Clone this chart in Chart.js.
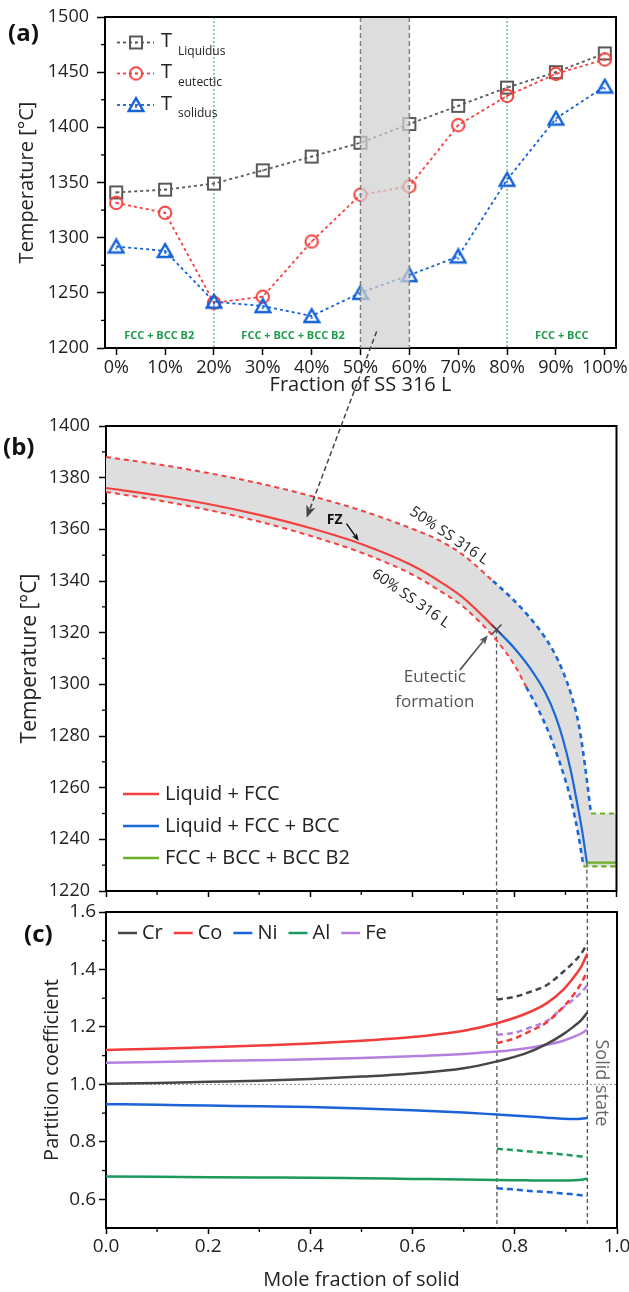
<!DOCTYPE html>
<html>
<head>
<meta charset="utf-8">
<title>Solidification path of the fusion zone</title>
<script src="https://cdn.jsdelivr.net/npm/chart.js@4.4.1/dist/chart.umd.min.js"></script>
<style>
  html, body { margin: 0; padding: 0; background: #fff; }
  body { position: relative; width: 629px; height: 1292px; overflow: hidden; }
  canvas { position: absolute; left: 0; }
  #chartA { top: 0; z-index: 1; }
  #chartB { top: 320px; z-index: 2; }
  #chartC { top: 891px; z-index: 3; }
</style>
</head>
<body>
<canvas id="chartA" width="629" height="400"></canvas>
<canvas id="chartB" width="629" height="580"></canvas>
<canvas id="chartC" width="629" height="401"></canvas>
<script>
(function () {

  var FONT = '"Open Sans", "Noto Sans", sans-serif';
  var INK = '#222';

  // ---- (a) characteristic temperatures vs. SS 316 L fraction
  var fracLabels = ['0%', '10%', '20%', '30%', '40%', '50%', '60%', '70%', '80%', '90%', '100%'];
  var tLiquidus = [1341, 1343.5, 1349, 1361, 1373.5, 1386, 1403, 1419.5, 1436, 1450, 1467];
  var tEutectic = [1331.5, 1322.5, 1241, 1246.5, 1296.5, 1339, 1346.5, 1402, 1428.5, 1448.5, 1461.5];
  var tSolidus = [1292, 1288, 1242, 1238, 1229, 1250, 1266, 1283, 1352.5, 1408, 1437];
  var aTicksY = [1200, 1250, 1300, 1350, 1400, 1450, 1500];
  var phaseNames = ['FCC + BCC B2', 'FCC + BCC + BCC B2', 'FCC + BCC'];
  var phaseSplits = [2, 8];     // index of 20 % and 80 %
  var fzRange = [5, 6];         // 50 % .. 60 % SS 316 L

  // ---- (b) solidification paths (mole fraction of solid vs T)
  var fsLiqFcc = [0, 0.1, 0.2, 0.3, 0.4, 0.5, 0.6, 0.65, 0.7, 0.765];
  var tLiqFcc = [1376, 1373.2, 1369.8, 1365.6, 1360.5, 1354.3, 1346, 1340.3, 1333.5, 1321.2];
  var fsLiqFccBcc = [0.765, 0.8, 0.83, 0.86, 0.88, 0.894, 0.91, 0.921, 0.933, 0.942];
  var tLiqFccBcc = [1321.2, 1314, 1306.5, 1297, 1288, 1279.5, 1267, 1256, 1243, 1231];
  var fsFccBccB2 = [0.942, 1];
  var tFccBccB2 = [1231, 1231];

  var fs50Fcc = [0, 0.1, 0.2, 0.3, 0.4, 0.5, 0.6, 0.65, 0.7, 0.758];
  var t50Fcc = [1388, 1385.2, 1381.8, 1377.8, 1373, 1367.3, 1360.2, 1356, 1350, 1340];
  var fs50Bcc = [0.758, 0.794, 0.823, 0.849, 0.876, 0.895, 0.912, 0.926, 0.938, 0.95];
  var t50Bcc = [1340, 1333.5, 1327.5, 1321.2, 1313, 1305, 1295.5, 1284.5, 1269, 1250];
  var fs50B2 = [0.95, 1];
  var t50B2 = [1250, 1250];

  var fs60Fcc = [0, 0.1, 0.2, 0.3, 0.4, 0.5, 0.6, 0.65, 0.7, 0.765, 0.8, 0.823];
  var t60Fcc = [1374.5, 1371.3, 1367.5, 1363, 1357.5, 1351, 1342.5, 1336.7, 1330, 1317, 1307.5, 1299];
  var fs60Bcc = [0.823, 0.85, 0.869, 0.89, 0.911, 0.925, 0.935];
  var t60Bcc = [1299, 1289, 1280.5, 1269, 1255, 1242, 1230];
  var fs60B2 = [0.935, 1];
  var t60B2 = [1229.5, 1229.5];

  var bTicksY = [1220, 1240, 1260, 1280, 1300, 1320, 1340, 1360, 1380, 1400];
  var fsTicks = [0, 0.2, 0.4, 0.6, 0.8, 1.0];

  // ---- (c) partition coefficients
  var fsK = [0, 0.1, 0.2, 0.3, 0.4, 0.5, 0.6, 0.7, 0.765, 0.82, 0.862, 0.895, 0.915, 0.93, 0.942];
  var kCr = [1.002, 1.005, 1.009, 1.013, 1.019, 1.027, 1.038, 1.056, 1.08, 1.107, 1.14, 1.175, 1.201, 1.224, 1.25];
  var kCo = [1.12, 1.124, 1.129, 1.135, 1.142, 1.152, 1.165, 1.187, 1.213, 1.245, 1.282, 1.33, 1.372, 1.41, 1.455];
  var kNi = [0.931, 0.929, 0.926, 0.924, 0.921, 0.916, 0.91, 0.902, 0.895, 0.889, 0.884, 0.88, 0.879, 0.88, 0.883];
  var kAl = [0.679, 0.678, 0.677, 0.676, 0.675, 0.673, 0.671, 0.669, 0.667, 0.666, 0.665, 0.665, 0.666, 0.668, 0.672];
  var kFe = [1.075, 1.078, 1.081, 1.084, 1.087, 1.092, 1.098, 1.106, 1.114, 1.125, 1.138, 1.152, 1.165, 1.177, 1.19];

  var fsKEut = [0.765, 0.8, 0.83, 0.862, 0.895, 0.915, 0.93, 0.942];
  var kCrEut = [1.295, 1.305, 1.322, 1.345, 1.392, 1.425, 1.455, 1.49];
  var kCoEut = [1.143, 1.16, 1.185, 1.215, 1.27, 1.312, 1.352, 1.395];
  var kNiEut = [0.638, 0.634, 0.629, 0.625, 0.62, 0.617, 0.614, 0.611];
  var kAlEut = [0.776, 0.771, 0.766, 0.761, 0.756, 0.752, 0.749, 0.747];
  var kFeEut = [1.172, 1.18, 1.198, 1.22, 1.268, 1.296, 1.32, 1.345];
  var cTicksY = [0.6, 0.8, 1.0, 1.2, 1.4, 1.6];

  var RED = '#f2413f', BLUE = '#1a68d8', LIME = '#6aae22';
  var COL = { Cr: '#464646', Co: '#f23c3c', Ni: '#1b63d6', Al: '#1c9a5c', Fe: '#b57fe0' };

  function pts(xs, ys) {
    return xs.map(function (x, i) { return { x: x, y: ys[i] }; });
  }

  function range(a, b, step) {
    var out = [];
    for (var v = a; v <= b + 1e-9; v += step) out.push(+v.toFixed(4));
    return out;
  }

  function fixedTicks(values) {
    return function (scale) {
      scale.ticks = values.map(function (v) { return { value: v }; });
    };
  }

  function yBox(w) {
    return function (s) { s.width = w; s.paddingTop = 0; s.paddingBottom = 0; };
  }

  function xBox(h) {
    return function (s) { s.height = h; s.paddingLeft = 0; s.paddingRight = 0; };
  }

  function plain(v) { return String(v); }
  function oneDecimal(v) { return v.toFixed(1); }

  function axis(extra) {
    var base = {
      border: { display: true, color: '#000', width: 2 },
      grid: { display: true, drawOnChartArea: false, drawTicks: true, tickLength: 7, tickColor: '#000', tickWidth: 1.5 },
      ticks: { color: INK, font: { family: FONT, size: 18 }, padding: 3, callback: plain }
    };
    Object.keys(extra).forEach(function (k) {
      if (base[k] && typeof extra[k] === 'object') base[k] = Object.assign({}, base[k], extra[k]);
      else base[k] = extra[k];
    });
    return base;
  }

  function arrow(ctx, x1, y1, x2, y2, color, dash, width, head) {
    var ang = Math.atan2(y2 - y1, x2 - x1);
    ctx.save();
    ctx.strokeStyle = color;
    ctx.fillStyle = color;
    ctx.lineWidth = width;
    ctx.setLineDash(dash || []);
    ctx.beginPath();
    ctx.moveTo(x1, y1);
    ctx.lineTo(x2 - Math.cos(ang) * head * 0.7, y2 - Math.sin(ang) * head * 0.7);
    ctx.stroke();
    ctx.setLineDash([]);
    ctx.beginPath();
    ctx.moveTo(x2, y2);
    ctx.lineTo(x2 - head * Math.cos(ang - 0.38), y2 - head * Math.sin(ang - 0.38));
    ctx.lineTo(x2 - head * 0.7 * Math.cos(ang), y2 - head * 0.7 * Math.sin(ang));
    ctx.lineTo(x2 - head * Math.cos(ang + 0.38), y2 - head * Math.sin(ang + 0.38));
    ctx.closePath();
    ctx.fill();
    ctx.restore();
  }

  function rotatedText(ctx, text, x, y, deg, font, color) {
    ctx.save();
    ctx.translate(x, y);
    ctx.rotate(deg * Math.PI / 180);
    ctx.font = font;
    ctx.fillStyle = color;
    ctx.textAlign = 'center';
    ctx.textBaseline = 'middle';
    ctx.fillText(text, 0, 0);
    ctx.restore();
  }

  function panelTag(ctx, text, x, y) {
    ctx.save();
    ctx.font = 'bold 24px ' + FONT;
    ctx.fillStyle = '#111';
    ctx.textAlign = 'left';
    ctx.textBaseline = 'middle';
    ctx.fillText(text, x, y);
    ctx.restore();
  }

  // top/right frame and minor ticks, shared by all three panels
  var frame = {
    id: 'frame',
    afterDraw: function (chart, args, o) {
      var ctx = chart.ctx, a = chart.chartArea;
      ctx.save();
      ctx.strokeStyle = '#000';
      ctx.lineWidth = 1.3;
      (o.minorY || []).forEach(function (v) {
        var y = chart.scales.y.getPixelForValue(v);
        ctx.beginPath(); ctx.moveTo(a.left - 4, y); ctx.lineTo(a.left, y); ctx.stroke();
      });
      (o.minorX || []).forEach(function (v) {
        var x = chart.scales.x.getPixelForValue(v);
        ctx.beginPath(); ctx.moveTo(x, a.bottom); ctx.lineTo(x, a.bottom + 4); ctx.stroke();
      });
      ctx.lineWidth = 2;
      ctx.beginPath();
      ctx.moveTo(a.left - 1, a.top);
      ctx.lineTo(a.right, a.top);
      ctx.lineTo(a.right, a.bottom + 1);
      ctx.stroke();
      ctx.restore();
    }
  };

  // open markers with a centre dot
  function marker(kind, color) {
    var c = document.createElement('canvas');
    c.width = 18; c.height = 18;
    var g = c.getContext('2d');
    g.strokeStyle = color; g.fillStyle = color; g.lineWidth = 2;
    if (kind === 'square') {
      g.strokeRect(3, 3, 12, 12);
    } else if (kind === 'circle') {
      g.beginPath(); g.arc(9, 9, 6.2, 0, Math.PI * 2); g.stroke();
    } else {
      g.lineWidth = 2.4;
      g.beginPath(); g.moveTo(9, 2.2); g.lineTo(16.3, 15); g.lineTo(1.7, 15); g.closePath(); g.stroke();
    }
    g.beginPath(); g.arc(9, kind === 'triangle' ? 11 : 9, 1.1, 0, Math.PI * 2); g.fill();
    return c;
  }

  var GREY = '#595959';
  var mSquare = marker('square', GREY);
  var mCircle = marker('circle', '#f5403c');
  var mTriangle = marker('triangle', '#1563d6');
  var fracIdx = fracLabels.map(function (l, i) { return i; });

  var panelA = {
    id: 'panelA',
    beforeDatasetsDraw: function (chart) {
      var ctx = chart.ctx, a = chart.chartArea, x = chart.scales.x;
      ctx.save();
      ctx.strokeStyle = '#1f9e50';
      ctx.lineWidth = 1;
      ctx.setLineDash([2, 2]);
      phaseSplits.forEach(function (i) {
        var px = x.getPixelForValue(i);
        ctx.beginPath(); ctx.moveTo(px, a.top); ctx.lineTo(px, a.bottom); ctx.stroke();
      });
      ctx.restore();
    },
    afterDatasetsDraw: function (chart) {
      var ctx = chart.ctx, a = chart.chartArea, x = chart.scales.x, y = chart.scales.y;
      ctx.save();
      // 50-60 % composition window (the fusion zone)
      var x0 = x.getPixelForValue(fzRange[0]), x1 = x.getPixelForValue(fzRange[1]);
      ctx.fillStyle = 'rgba(208,208,208,0.72)';
      ctx.fillRect(x0, a.top, x1 - x0, a.bottom - a.top);
      ctx.strokeStyle = '#808080';
      ctx.lineWidth = 1.5;
      ctx.setLineDash([5, 3]);
      [x0, x1].forEach(function (px) {
        ctx.beginPath(); ctx.moveTo(px, a.top); ctx.lineTo(px, a.bottom); ctx.stroke();
      });
      ctx.setLineDash([]);

      // phase regions
      ctx.font = 'bold 11px ' + FONT;
      ctx.fillStyle = '#1e9b4b';
      ctx.textAlign = 'center';
      ctx.textBaseline = 'middle';
      var labelX = [0.88, 3.62, 9.12];
      phaseNames.forEach(function (t, i) {
        ctx.fillText(t, x.getPixelForValue(labelX[i]), y.getPixelForValue(1211));
      });

      // legend
      var rows = [
        { img: mSquare, color: GREY, sub: 'Liquidus', y: 42.5 },
        { img: mCircle, color: '#f5403c', sub: 'eutectic', y: 73.5 },
        { img: mTriangle, color: '#1563d6', sub: 'solidus', y: 105 }
      ];
      rows.forEach(function (r) {
        ctx.strokeStyle = r.color;
        ctx.lineWidth = 1.8;
        ctx.setLineDash([3, 3]);
        ctx.beginPath(); ctx.moveTo(117, r.y); ctx.lineTo(154, r.y); ctx.stroke();
        ctx.setLineDash([]);
        ctx.drawImage(r.img, 136 - 9, r.y - 9);
        ctx.fillStyle = INK;
        ctx.textAlign = 'left';
        ctx.textBaseline = 'middle';
        ctx.font = '20px ' + FONT;
        ctx.fillText('T', 161, r.y - 1);
        ctx.font = '12px ' + FONT;
        ctx.textBaseline = 'alphabetic';
        ctx.fillText(r.sub, 178, r.y + 12);
      });
      ctx.restore();
      panelTag(ctx, '(a)', 8, 34);
    }
  };

  var chartA = new Chart(document.getElementById('chartA'), {
    type: 'line',
    data: {
      datasets: [
        { label: 'T solidus', data: pts(fracIdx, tSolidus), borderColor: '#1563d6', pointStyle: mTriangle },
        { label: 'T eutectic', data: pts(fracIdx, tEutectic), borderColor: '#f5403c', pointStyle: mCircle },
        { label: 'T Liquidus', data: pts(fracIdx, tLiquidus), borderColor: GREY, pointStyle: mSquare }
      ].map(function (d) {
        return Object.assign(d, { borderDash: [3, 3], borderWidth: 1.8, pointRadius: 7, fill: false, tension: 0 });
      })
    },
    options: {
      responsive: false,
      animation: false,
      layout: { padding: { left: 0, right: 13, top: 17, bottom: 0 } },
      plugins: {
        legend: { display: false },
        tooltip: { enabled: false },
        frame: { minorY: range(1225, 1475, 50) }
      },
      scales: {
        x: axis({
          type: 'linear', min: -0.23, max: 10.23,
          afterBuildTicks: fixedTicks(fracIdx),
          afterFit: xBox(52),
          ticks: { callback: function (v) { return fracLabels[v]; }, padding: 2, maxRotation: 0 },
          title: { display: true, text: 'Fraction of SS 316 L', color: INK, font: { family: FONT, size: 20 }, padding: { top: 0, bottom: 3 } }
        }),
        y: axis({
          min: 1200, max: 1500,
          afterBuildTicks: fixedTicks(aTicksY),
          afterFit: yBox(105),
          grid: { tickLength: 8 },
          ticks: { padding: 8 },
          title: { display: true, text: 'Temperature [°C]', color: INK, font: { family: FONT, size: 20 }, padding: { top: 15, bottom: 0 } }
        })
      }
    },
    plugins: [frame, panelA]
  });

  // trace a dataset's drawn line (with its curve control points) into the current path
  function tracePath(ctx, chart, idx, reverse, move) {
    var line = chart.getDatasetMeta(idx).dataset;
    if (typeof line.pathSegment !== 'function') {
      var p = line.points.slice();
      if (reverse) p.reverse();
      p.forEach(function (pt, i) {
        if (move && i === 0) ctx.moveTo(pt.x, pt.y); else ctx.lineTo(pt.x, pt.y);
      });
      return;
    }
    line.updateControlPoints(chart.chartArea, 'x');
    var segs = line.segments.slice();
    if (reverse) segs.reverse();
    segs.forEach(function (seg) {
      line.pathSegment(ctx, seg, { move: move, reverse: reverse });
      move = false;
    });
  }

  var fsEut = fsLiqFccBcc[0];
  var tEut = tLiqFccBcc[0];
  var fsEnd = fsFccBccB2[0];

  var panelB = {
    id: 'panelB',
    beforeDatasetsDraw: function (chart) {
      var ctx = chart.ctx, a = chart.chartArea, x = chart.scales.x, y = chart.scales.y;
      ctx.save();
      // band between the 50 % and 60 % SS 316 L paths
      ctx.beginPath();
      tracePath(ctx, chart, 3, false, true);
      tracePath(ctx, chart, 4, false, false);
      tracePath(ctx, chart, 5, false, false);
      tracePath(ctx, chart, 8, true, false);
      tracePath(ctx, chart, 7, true, false);
      tracePath(ctx, chart, 6, true, false);
      ctx.closePath();
      ctx.fillStyle = '#dedede';
      ctx.fill();

      ctx.strokeStyle = '#555';
      ctx.lineWidth = 1.3;
      ctx.setLineDash([4, 3]);
      [[fsEut, tEut], [fsEnd, tFccBccB2[0]]].forEach(function (p) {
        var px = x.getPixelForValue(p[0]);
        ctx.beginPath(); ctx.moveTo(px, y.getPixelForValue(p[1])); ctx.lineTo(px, a.bottom); ctx.stroke();
      });
      ctx.restore();
    },
    afterDatasetsDraw: function (chart) {
      var ctx = chart.ctx, x = chart.scales.x, y = chart.scales.y;
      function px(v) { return x.getPixelForValue(v); }
      function py(v) { return y.getPixelForValue(v); }
      ctx.save();
      // eutectic onset
      var ex = px(fsEut), ey = py(tEut);
      ctx.strokeStyle = '#444';
      ctx.lineWidth = 1.4;
      ctx.beginPath();
      ctx.moveTo(ex - 5, ey - 5); ctx.lineTo(ex + 5, ey + 5);
      ctx.moveTo(ex - 5, ey + 5); ctx.lineTo(ex + 5, ey - 5);
      ctx.stroke();

      rotatedText(ctx, '50% SS 316 L', px(0.672), py(1357.5), 34, '15px ' + FONT, INK);
      rotatedText(ctx, '60% SS 316 L', px(0.597), py(1333.2), 35, '15px ' + FONT, INK);

      ctx.font = 'bold 14px ' + FONT;
      ctx.fillStyle = '#111';
      ctx.textAlign = 'center';
      ctx.textBaseline = 'middle';
      ctx.fillText('FZ', px(0.448), py(1363.7));
      arrow(ctx, px(0.471), py(1362.2), px(0.495), py(1355.6), '#111', null, 1.5, 8);

      ctx.font = '17px ' + FONT;
      ctx.fillStyle = '#555';
      ctx.fillText('Eutectic', px(0.644), py(1302.9));
      ctx.fillText('formation', px(0.644), py(1293));
      arrow(ctx, px(0.693), py(1305.5), px(0.748), py(1319), '#555', null, 1.6, 10);

      // legend
      var items = [['Liquid + FCC', RED], ['Liquid + FCC + BCC', BLUE], ['FCC + BCC + BCC B2', LIME]];
      ctx.font = '20px ' + FONT;
      ctx.textAlign = 'left';
      items.forEach(function (it, i) {
        var ly = 474 + i * 32;
        ctx.strokeStyle = it[1];
        ctx.lineWidth = 2.5;
        ctx.beginPath(); ctx.moveTo(123, ly); ctx.lineTo(159, ly); ctx.stroke();
        ctx.fillStyle = INK;
        ctx.fillText(it[0], 165, ly);
      });
      ctx.restore();
      panelTag(ctx, '(b)', 3, 128);
    },
    afterDraw: function (chart) {
      // dashed pointer from the 50-60 % window of panel (a)
      var ctx = chart.ctx;
      var offset = chart.canvas.offsetTop - chartA.canvas.offsetTop;
      var sx = chartA.scales.x.getPixelForValue(5.33);
      var sy = chartA.scales.y.getPixelForValue(1215) - offset;
      arrow(ctx, sx, sy, chart.scales.x.getPixelForValue(0.393), chart.scales.y.getPixelForValue(1364.5), '#444', [5, 3], 1.5, 13);
    }
  };

  function pathSet(xs, ys, color, dashed, width) {
    return {
      data: pts(xs, ys),
      borderColor: color,
      borderWidth: width,
      borderDash: dashed ? [5, 4] : [],
      pointRadius: 0,
      fill: false,
      cubicInterpolationMode: 'monotone'
    };
  }

  new Chart(document.getElementById('chartB'), {
    type: 'line',
    data: {
      datasets: [
        pathSet(fsLiqFcc, tLiqFcc, RED, false, 2.2),
        pathSet(fsLiqFccBcc, tLiqFccBcc, BLUE, false, 2.2),
        pathSet(fsFccBccB2, tFccBccB2, LIME, false, 2.4),
        pathSet(fs50Fcc, t50Fcc, RED, true, 2),
        pathSet(fs50Bcc, t50Bcc, BLUE, true, 2.6),
        pathSet(fs50B2, t50B2, LIME, true, 2.2),
        pathSet(fs60Fcc, t60Fcc, RED, true, 2),
        pathSet(fs60Bcc, t60Bcc, BLUE, true, 2.6),
        pathSet(fs60B2, t60B2, LIME, true, 2.2)
      ]
    },
    options: {
      responsive: false,
      animation: false,
      layout: { padding: { left: 0, right: 12.5, top: 106, bottom: 0 } },
      plugins: {
        legend: { display: false },
        tooltip: { enabled: false },
        frame: { minorY: range(1230, 1390, 20), minorX: range(0.1, 0.9, 0.2) }
      },
      scales: {
        x: axis({
          type: 'linear', min: 0, max: 1,
          afterBuildTicks: fixedTicks(fsTicks),
          afterFit: xBox(9),
          grid: { tickLength: 6 },
          ticks: { display: false }
        }),
        y: axis({
          min: 1220, max: 1400,
          afterBuildTicks: fixedTicks(bTicksY),
          afterFit: yBox(106),
          grid: { tickLength: 7 },
          ticks: { padding: 9 },
          title: { display: true, text: 'Temperature [°C]', color: INK, font: { family: FONT, size: 21 }, padding: { top: 17, bottom: 0 } }
        })
      }
    },
    plugins: [frame, panelB]
  });

  var panelC = {
    id: 'panelC',
    beforeDatasetsDraw: function (chart) {
      var ctx = chart.ctx, a = chart.chartArea, x = chart.scales.x, y = chart.scales.y;
      ctx.save();
      ctx.strokeStyle = '#8a8a8a';
      ctx.lineWidth = 1;
      ctx.setLineDash([2, 2]);
      var y1 = y.getPixelForValue(1.0);
      ctx.beginPath(); ctx.moveTo(a.left, y1); ctx.lineTo(a.right, y1); ctx.stroke();

      // eutectic onset and end of solidification, continued from panel (b)
      ctx.strokeStyle = '#555';
      ctx.lineWidth = 1.3;
      ctx.setLineDash([4, 3]);
      [fsKEut[0], fsKEut[fsKEut.length - 1]].forEach(function (v) {
        var px = x.getPixelForValue(v);
        ctx.beginPath(); ctx.moveTo(px, 0); ctx.lineTo(px, a.bottom); ctx.stroke();
      });
      ctx.restore();
    },
    afterDatasetsDraw: function (chart) {
      var ctx = chart.ctx, x = chart.scales.x, y = chart.scales.y;
      rotatedText(ctx, 'Solid state', x.getPixelForValue(0.969), y.getPixelForValue(1.005), 90, '18px ' + FONT, '#666');

      ctx.save();
      ctx.font = '20px ' + FONT;
      ctx.textAlign = 'left';
      ctx.textBaseline = 'middle';
      var lx = 118, ly = 42;
      ['Cr', 'Co', 'Ni', 'Al', 'Fe'].forEach(function (el) {
        ctx.strokeStyle = COL[el];
        ctx.lineWidth = 2.5;
        ctx.beginPath(); ctx.moveTo(lx, ly); ctx.lineTo(lx + 19, ly); ctx.stroke();
        ctx.fillStyle = INK;
        ctx.fillText(el, lx + 24, ly);
        lx += 24 + ctx.measureText(el).width + 11;
      });
      ctx.restore();
      panelTag(ctx, '(c)', 24, 44);
    }
  };

  function kSet(xs, ys, color, dashed) {
    return {
      data: pts(xs, ys),
      borderColor: color,
      borderWidth: 2.5,
      borderDash: dashed ? [6, 4] : [],
      pointRadius: 0,
      fill: false,
      cubicInterpolationMode: 'monotone'
    };
  }

  new Chart(document.getElementById('chartC'), {
    type: 'line',
    data: {
      datasets: [
        kSet(fsK, kCr, COL.Cr, false),
        kSet(fsK, kCo, COL.Co, false),
        kSet(fsK, kNi, COL.Ni, false),
        kSet(fsK, kAl, COL.Al, false),
        kSet(fsK, kFe, COL.Fe, false),
        kSet(fsKEut, kCrEut, COL.Cr, true),
        kSet(fsKEut, kCoEut, COL.Co, true),
        kSet(fsKEut, kNiEut, COL.Ni, true),
        kSet(fsKEut, kAlEut, COL.Al, true),
        kSet(fsKEut, kFeEut, COL.Fe, true)
      ]
    },
    options: {
      responsive: false,
      animation: false,
      layout: { padding: { left: 0, right: 12, top: 21, bottom: 0 } },
      plugins: {
        legend: { display: false },
        tooltip: { enabled: false },
        frame: { minorY: range(0.7, 1.5, 0.2), minorX: range(0.1, 0.9, 0.2) }
      },
      scales: {
        x: axis({
          type: 'linear', min: 0, max: 1,
          afterBuildTicks: fixedTicks(fsTicks),
          afterFit: xBox(64),
          grid: { tickLength: 6 },
          ticks: { callback: oneDecimal, font: { family: FONT, size: 19 }, padding: 1, maxRotation: 0 },
          title: { display: true, text: 'Mole fraction of solid', color: INK, font: { family: FONT, size: 20 }, padding: { top: 0, bottom: 0 } }
        }),
        y: axis({
          min: 0.5, max: 1.6,
          afterBuildTicks: fixedTicks(cTicksY),
          afterFit: yBox(106),
          grid: { tickLength: 7 },
          ticks: { callback: oneDecimal, font: { family: FONT, size: 19 }, padding: 3 },
          title: { display: true, text: 'Partition coefficient', color: INK, font: { family: FONT, size: 20 }, padding: { top: 40, bottom: 0 } }
        })
      }
    },
    plugins: [frame, panelC]
  });

})();
</script>
</body>
</html>
